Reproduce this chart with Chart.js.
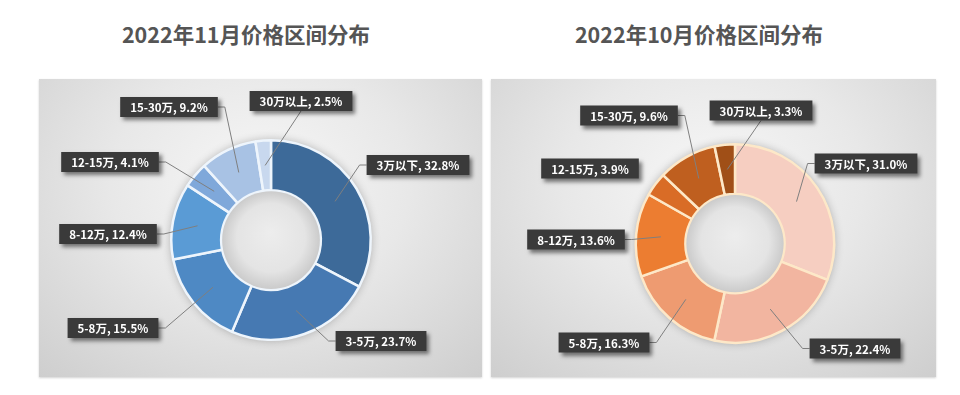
<!DOCTYPE html>
<html lang="zh">
<head>
<meta charset="UTF-8">
<script src="https://cdn.jsdelivr.net/npm/chart.js@4.4.0/dist/chart.umd.min.js"></script>
<title>价格区间分布</title>
<style>
  body { margin:0; width:960px; height:395px; background:#fff; position:relative; overflow:hidden;
         font-family:"Noto Sans CJK SC", sans-serif; }
  .title { position:absolute; top:19px; width:320px; text-align:center; font-size:21.5px; font-weight:bold;
           color:#555555; line-height:30px; }
  .panel { position:absolute; top:79px; height:298px;
           background:radial-gradient(ellipse 75% 90% at 50% 35%, #f7f7f7 0%, #e8e8e8 45%, #cdcdcd 100%);
           box-shadow:0 1px 2px rgba(0,0,0,0.18); }
  canvas { position:absolute; left:0; top:0; }
</style>
</head>
<body>

<div class="title" style="left:86px">2022年11月价格区间分布</div>
<div class="title" style="left:539px">2022年10月价格区间分布</div>

<div class="panel" style="left:39px;width:443px"><canvas id="novChart" width="443" height="298"></canvas></div>
<div class="panel" style="left:491px;width:445px"><canvas id="octChart" width="445" height="298"></canvas></div>

<script>
// data
const categories = ['3万以下', '3-5万', '5-8万', '8-12万', '12-15万', '15-30万', '30万以上'];
const novValues = [32.8, 23.7, 15.5, 12.4, 4.1, 9.2, 2.5];
const octValues = [31.0, 22.4, 16.3, 13.6, 3.9, 9.6, 3.3];

const novColors = ['#3d6a99', '#4679b2', '#4e89c4', '#5a9bd5', '#7fa8da', '#a8c2e4', '#c8d8ee'];
const octColors = ['#f6cec1', '#f2b5a0', '#ee9b71', '#ec7d31', '#d96c26', '#bf5f1f', '#a04f17'];

// label box centres, relative to the doughnut centre
const novLabelPos = [[147,-75], [110,101], [-158,88], [-163,-6], [-161,-78], [-102,-133], [30,-139]];
const octLabelPos = [[131,-80], [120,105], [-131,99], [-159,-4], [-145,-75], [-106,-128], [26,-133]];
const novLeader = [true, true, true, true, true, true, true];
const octLeader = [true, true, true, true, false, true, true];

const boxLabels = {
  id: 'boxLabels',
  beforeDatasetsDraw(chart, args, opts) {
    const el = chart.getDatasetMeta(0).data[0];
    const p = el.getProps(['x', 'y', 'outerRadius'], true);
    const ctx = chart.ctx;
    ctx.save();
    ctx.beginPath();
    ctx.arc(p.x, p.y, p.outerRadius, 0, Math.PI * 2);
    ctx.shadowColor = 'rgba(0,0,0,0.3)';
    ctx.shadowBlur = 10;
    ctx.fillStyle = opts.ring;
    ctx.fill();
    ctx.restore();
  },
  afterDatasetsDraw(chart, args, opts) {
    const ctx = chart.ctx;
    const meta = chart.getDatasetMeta(0);
    const values = chart.data.datasets[0].data;

    // hole
    const c = meta.data[0].getProps(['x', 'y', 'innerRadius'], true);
    const hr = c.innerRadius - 1;
    const g = ctx.createRadialGradient(c.x, c.y - 8, 0, c.x, c.y, hr);
    g.addColorStop(0, '#ededed');
    g.addColorStop(0.7, '#e4e4e4');
    g.addColorStop(1, '#cbcbcb');
    ctx.save();
    ctx.beginPath();
    ctx.arc(c.x, c.y, hr, 0, Math.PI * 2);
    ctx.fillStyle = g;
    ctx.fill();
    ctx.restore();

    ctx.save();
    ctx.font = 'bold 11.5px "Noto Sans CJK SC", sans-serif';
    meta.data.forEach((el, i) => {
      const p = el.getProps(['x', 'y', 'startAngle', 'endAngle', 'innerRadius', 'outerRadius'], true);
      const mid = (p.startAngle + p.endAngle) / 2;
      const r = (p.innerRadius + p.outerRadius) / 2;
      const ax = p.x + Math.cos(mid) * r;
      const ay = p.y + Math.sin(mid) * r;
      const bx = p.x + opts.pos[i][0];
      const by = p.y + opts.pos[i][1];
      const text = chart.data.labels[i] + ', ' + values[i].toFixed(1) + '%';
      const w = ctx.measureText(text).width + 20, h = 20;
      const left = bx - w / 2, right = bx + w / 2, top = by - h / 2, bottom = by + h / 2;

      if (opts.leader[i]) {
        ctx.strokeStyle = '#7f7f7f';
        ctx.lineWidth = 1;
        ctx.beginPath();
        if (ax > left && ax < right) {
          ctx.moveTo(bx, ay > by ? bottom : top);
        } else if (ax >= right) {
          ctx.moveTo(right, by);
          ctx.lineTo(right + 7, by);
        } else {
          ctx.moveTo(left, by);
          ctx.lineTo(left - 7, by);
        }
        ctx.lineTo(ax, ay);
        ctx.stroke();
      }

      ctx.save();
      ctx.shadowColor = 'rgba(0,0,0,0.5)';
      ctx.shadowOffsetX = 3;
      ctx.shadowOffsetY = 3;
      ctx.shadowBlur = 4;
      ctx.fillStyle = '#3a3a3a';
      ctx.fillRect(left, top, w, h);
      ctx.restore();

      ctx.fillStyle = '#ffffff';
      ctx.textAlign = 'center';
      ctx.textBaseline = 'middle';
      ctx.fillText(text, bx, by + 1);
    });
    ctx.restore();
  }
};

function makeChart(id, values, colors, border, ring, pos, leader, padding) {
  return new Chart(document.getElementById(id), {
    type: 'doughnut',
    data: {
      labels: categories,
      datasets: [{
        data: values,
        backgroundColor: colors,
        borderColor: border,
        borderWidth: 2.5
      }]
    },
    options: {
      responsive: false,
      animation: false,
      cutout: '50%',
      layout: { padding: padding },
      plugins: {
        legend: { display: false },
        tooltip: { enabled: false },
        boxLabels: { pos: pos, leader: leader, ring: ring }
      }
    },
    plugins: [boxLabels]
  });
}

makeChart('novChart', novValues, novColors, '#eef5fc', '#eef5fc', novLabelPos, novLeader,
          { left: 131, right: 110, top: 60, bottom: 36 });
makeChart('octChart', octValues, octColors, '#fde8c8', '#fde8c8', octLabelPos, octLeader,
          { left: 143, right: 100, top: 64, bottom: 33 });
</script>
</body>
</html>
